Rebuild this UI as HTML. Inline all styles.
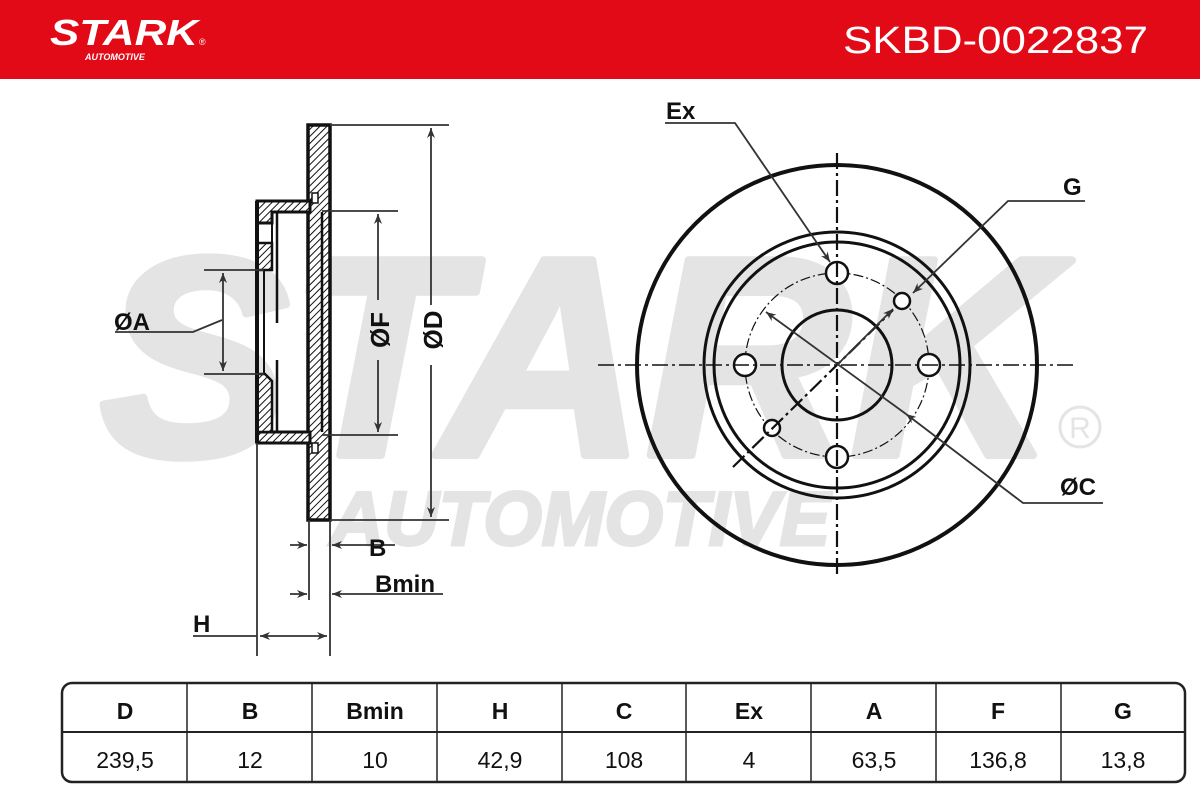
<!DOCTYPE html>
<html><head><meta charset="utf-8"><style>
html,body{margin:0;padding:0;background:#fff;width:1200px;height:800px;overflow:hidden}
svg{display:block}
text{font-family:"Liberation Sans",sans-serif}
</style></head><body>
<svg width="1200" height="800" viewBox="0 0 1200 800" xmlns="http://www.w3.org/2000/svg">
<defs>
<pattern id="h" width="5" height="5" patternUnits="userSpaceOnUse" patternTransform="rotate(45)">
<rect width="5" height="5" fill="#fff"/><line x1="0" y1="0" x2="0" y2="5" stroke="#111" stroke-width="2"/>
</pattern>
<marker id="a" viewBox="0 0 10 10" refX="10" refY="5" markerWidth="10" markerHeight="10" orient="auto-start-reverse" markerUnits="userSpaceOnUse"><path d="M0,1 L10,5 L0,9 L3,5 Z" fill="#333"/></marker>
</defs>
<rect x="0" y="0" width="1200" height="79" fill="#e20a17"/>
<text x="50" y="45" fill="#fff" font-size="36" font-weight="bold" font-style="italic" textLength="148" lengthAdjust="spacingAndGlyphs">STARK</text>
<text x="199" y="45" fill="#fff" font-size="9">®</text>
<text x="85" y="60" fill="#fff" font-size="9" font-weight="bold" font-style="italic">AUTOMOTIVE</text>
<text x="1148" y="53" fill="#fff" font-size="38" text-anchor="end" textLength="305" lengthAdjust="spacingAndGlyphs">SKBD-0022837</text>
<text x="100" y="455" fill="#e4e4e4" stroke="#e4e4e4" stroke-width="8" stroke-linejoin="round" font-size="283" font-weight="bold" font-style="italic" textLength="955" lengthAdjust="spacingAndGlyphs">STARK</text>
<text x="330" y="545" fill="#e4e4e4" stroke="#e4e4e4" stroke-width="3" font-size="76" font-weight="bold" font-style="italic" textLength="500" lengthAdjust="spacingAndGlyphs">AUTOMOTIVE</text>
<circle cx="1080" cy="427" r="20" fill="none" stroke="#e4e4e4" stroke-width="3"/>
<text x="1080" y="438" fill="#e4e4e4" font-size="30" text-anchor="middle">R</text>

<g stroke="#111">
<rect x="308" y="125" width="22" height="395" fill="url(#h)" stroke-width="3.5"/>
<path d="M257,201 H310 V212 H272 V223 H257 Z" fill="url(#h)" stroke-width="3"/>
<path d="M257,432 H310 V443 H257 Z" fill="url(#h)" stroke-width="3"/>
<rect x="257" y="243" width="15" height="27" fill="url(#h)" stroke-width="2.5"/>
<path d="M257,374 L265,374 L272,381 L272,432 L257,432 Z" fill="url(#h)" stroke-width="2.5"/>
<line x1="257" y1="201" x2="257" y2="443" stroke-width="4"/>
<line x1="272" y1="223" x2="272" y2="243" stroke-width="2"/>
<line x1="257" y1="223" x2="272" y2="223" stroke-width="2"/>
<line x1="264" y1="270" x2="264" y2="374" stroke-width="2"/>
<line x1="277" y1="212" x2="277" y2="323" stroke-width="2.5"/>
<line x1="277" y1="360" x2="277" y2="432" stroke-width="2.5"/>
<line x1="322" y1="212" x2="322" y2="432" stroke-width="2.5"/>
<rect x="312" y="193" width="6" height="10" fill="#fff" stroke-width="1.5"/>
<rect x="312" y="443" width="6" height="10" fill="#fff" stroke-width="1.5"/>
</g>
<g stroke="#333" stroke-width="1.8" fill="none">
<line x1="330" y1="125" x2="449" y2="125"/><line x1="330" y1="520" x2="449" y2="520"/>
<line x1="431" y1="128" x2="431" y2="305" marker-start="url(#a)"/><line x1="431" y1="365" x2="431" y2="517" marker-end="url(#a)"/>
<line x1="322" y1="211" x2="398" y2="211"/><line x1="322" y1="435" x2="398" y2="435"/>
<line x1="378" y1="214" x2="378" y2="300" marker-start="url(#a)"/><line x1="378" y1="360" x2="378" y2="432" marker-end="url(#a)"/>
<line x1="204" y1="270" x2="264" y2="270"/><line x1="204" y1="374" x2="264" y2="374"/>
<line x1="223" y1="273" x2="223" y2="371" marker-start="url(#a)" marker-end="url(#a)"/>
<polyline points="222,320 193,332 115,332"/>
<line x1="309" y1="520" x2="309" y2="600"/><line x1="330" y1="520" x2="330" y2="656"/>
<line x1="257" y1="443" x2="257" y2="656"/>
<line x1="290" y1="545" x2="307" y2="545" marker-end="url(#a)"/><line x1="395" y1="545" x2="332" y2="545" marker-end="url(#a)"/>
<line x1="290" y1="594" x2="307" y2="594" marker-end="url(#a)"/><line x1="443" y1="594" x2="332" y2="594" marker-end="url(#a)"/>
<line x1="193" y1="636" x2="257" y2="636"/>
<line x1="260" y1="636" x2="327" y2="636" marker-start="url(#a)" marker-end="url(#a)"/>
</g>
<g font-weight="bold" fill="#111" font-size="24">
<text x="114" y="330">ØA</text>
<text x="369" y="556">B</text>
<text x="375" y="592">Bmin</text>
<text x="193" y="632">H</text>
<text transform="translate(389,330) rotate(-90)" text-anchor="middle" font-size="26">ØF</text>
<text transform="translate(442,330) rotate(-90)" text-anchor="middle" font-size="26">ØD</text>
<text x="666" y="119">Ex</text>
<text x="1063" y="195">G</text>
<text x="1060" y="495">ØC</text>
</g>

<g fill="none" stroke="#111">
<circle cx="837" cy="365" r="200" stroke-width="4"/>
<circle cx="837" cy="365" r="133" stroke-width="3"/>
<circle cx="837" cy="365" r="123" stroke-width="3"/>
<circle cx="837" cy="365" r="55" stroke-width="3"/>
<circle cx="837" cy="365" r="92" stroke-width="1.2" stroke-dasharray="10,3,2,3"/>
<g fill="#fff" stroke-width="2.5">
<circle cx="837" cy="273" r="11"/><circle cx="837" cy="457" r="11"/>
<circle cx="745" cy="365" r="11"/><circle cx="929" cy="365" r="11"/>
<circle cx="902" cy="301" r="8"/><circle cx="772" cy="428" r="8"/>
</g>
<line x1="598" y1="365" x2="1075" y2="365" stroke-width="1.5" stroke-dasharray="16,4,3,4"/>
<line x1="837" y1="153" x2="837" y2="577" stroke-width="2.2" stroke-dasharray="16,4,3,4"/>
<line x1="733" y1="467" x2="893" y2="310" stroke-width="2.2" stroke-dasharray="16,4,3,4"/>
</g>
<g stroke="#333" stroke-width="1.8" fill="none">
<polyline points="665,123 735,123 830,262" marker-end="url(#a)"/>
<polyline points="1085,201 1008,201 913,293" marker-end="url(#a)"/>
<polyline points="1103,503 1023,503 906,414" marker-end="url(#a)"/>
<line x1="906" y1="414" x2="766" y2="312" marker-end="url(#a)"/>
<line x1="837" y1="365" x2="893" y2="309" marker-end="url(#a)"/>
</g>

<g stroke="#222" fill="none">
<rect x="62" y="683" width="1123" height="99" rx="10" stroke-width="2.5"/>
<line x1="62" y1="732" x2="1185" y2="732" stroke-width="2"/>
<line x1="187" y1="683" x2="187" y2="782" stroke-width="1.5"/>
<line x1="312" y1="683" x2="312" y2="782" stroke-width="1.5"/>
<line x1="437" y1="683" x2="437" y2="782" stroke-width="1.5"/>
<line x1="562" y1="683" x2="562" y2="782" stroke-width="1.5"/>
<line x1="686" y1="683" x2="686" y2="782" stroke-width="1.5"/>
<line x1="811" y1="683" x2="811" y2="782" stroke-width="1.5"/>
<line x1="936" y1="683" x2="936" y2="782" stroke-width="1.5"/>
<line x1="1061" y1="683" x2="1061" y2="782" stroke-width="1.5"/>
</g>
<g fill="#111" font-size="23" text-anchor="middle">
<g font-weight="bold">
<text x="125" y="719">D</text><text x="250" y="719">B</text><text x="375" y="719">Bmin</text>
<text x="500" y="719">H</text><text x="624" y="719">C</text><text x="749" y="719">Ex</text>
<text x="874" y="719">A</text><text x="998" y="719">F</text><text x="1123" y="719">G</text>
</g>
<text x="125" y="768">239,5</text><text x="250" y="768">12</text><text x="375" y="768">10</text>
<text x="500" y="768">42,9</text><text x="624" y="768">108</text><text x="749" y="768">4</text>
<text x="874" y="768">63,5</text><text x="998" y="768">136,8</text><text x="1123" y="768">13,8</text>
</g>
</svg>
</body></html>
